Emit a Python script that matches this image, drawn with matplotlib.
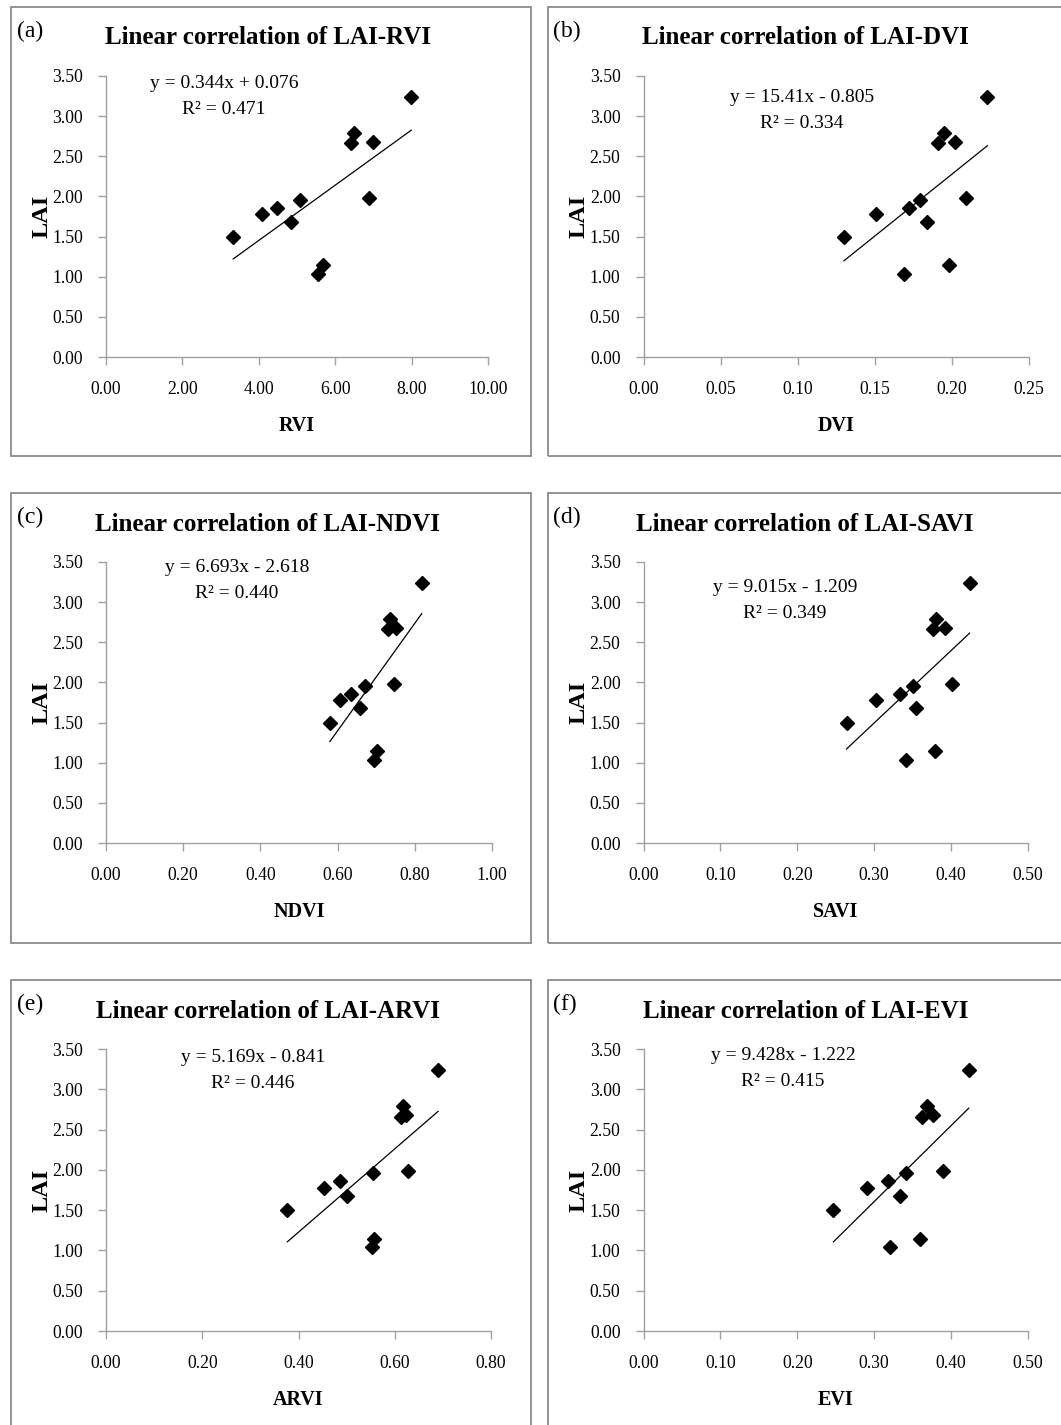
import matplotlib
matplotlib.use("Agg")
import matplotlib.pyplot as plt
from matplotlib.patches import Rectangle
import numpy as np

# Leaf area index measured at the 12 sample plots
lai = [1.50, 1.78, 1.86, 1.68, 1.96, 1.04, 1.14, 2.66, 2.79, 2.68, 1.98, 3.24]

# Vegetation indices at the same plots
rvi = [3.33, 4.08, 4.47, 4.83, 5.09, 5.54, 5.67, 6.42, 6.49, 6.98, 6.88, 7.99]
dvi = [0.130, 0.151, 0.172, 0.184, 0.179, 0.169, 0.198, 0.191, 0.195, 0.202, 0.209, 0.223]
ndvi = [0.580, 0.606, 0.635, 0.657, 0.672, 0.695, 0.701, 0.731, 0.735, 0.751, 0.747, 0.818]
savi = [0.264, 0.302, 0.333, 0.354, 0.350, 0.341, 0.379, 0.376, 0.381, 0.392, 0.401, 0.424]
arvi = [0.377, 0.452, 0.487, 0.501, 0.554, 0.553, 0.556, 0.612, 0.618, 0.624, 0.628, 0.690]
evi = [0.247, 0.291, 0.318, 0.334, 0.341, 0.321, 0.359, 0.362, 0.369, 0.376, 0.389, 0.423]

index_names = ["RVI", "DVI", "NDVI", "SAVI", "ARVI", "EVI"]
panel_tags = ["(a)", "(b)", "(c)", "(d)", "(e)", "(f)"]

# Fitted regression lines (y = slope * x + intercept) and R^2
slopes = [0.344, 15.41, 6.693, 9.015, 5.169, 9.428]
intercepts = [0.076, -0.805, -2.618, -1.209, -0.841, -1.222]
r_squared = [0.471, 0.334, 0.440, 0.349, 0.446, 0.415]

# Axis ranges and tick steps for each index
x_max = [10.0, 0.25, 1.0, 0.5, 0.8, 0.5]
x_step = [2.0, 0.05, 0.2, 0.1, 0.2, 0.1]
y_ticks = [0.0, 0.5, 1.0, 1.5, 2.0, 2.5, 3.0, 3.5]

index_values = [rvi, dvi, ndvi, savi, arvi, evi]

W, H = 1061, 1425
fig = plt.figure(figsize=(W / 100, H / 100), dpi=100)
fig.patch.set_facecolor("white")

serif = ["Liberation Serif", "DejaVu Serif"]
axis_grey = "#a0a0a0"
box_grey = "#8a8a8a"


def fx(px):
    return px / W


def fy(py):
    return 1 - py / H


# Pixel layout of each panel: box (left, top, right, bottom), axes (x0, x1, ytop, ybottom),
# equation centre (x, y of first line)
boxes = [
    (10.5, 7, 531, 456),
    (547.5, 7, 1075, 456),
    (10.5, 493, 531, 943),
    (547.5, 493, 1075, 943),
    (10.5, 980, 531, 1440),
    (547.5, 980, 1075, 1440),
]
axes_px = [
    (106, 488, 76, 357),
    (643.5, 1029, 76, 357),
    (106, 492, 562, 843),
    (643.5, 1028, 562, 843),
    (106, 491, 1049, 1331),
    (643.5, 1028, 1049, 1331),
]
eq_pos = [
    (224, 83),
    (802, 98),
    (237, 568),
    (785, 587),
    (253, 1057),
    (783, 1056),
]

for i in range(6):
    bl, bt, br, bb = boxes[i]
    fig.patches.append(
        Rectangle((fx(bl), fy(bb)), fx(br - bl), (bb - bt) / H,
                  transform=fig.transFigure, fill=False,
                  edgecolor=box_grey, linewidth=1.3, zorder=0)
    )

    x0, x1, yt, yb = axes_px[i]
    ax = fig.add_axes([fx(x0), fy(yb), fx(x1 - x0), (yb - yt) / H])
    xs = np.array(index_values[i])
    ax.plot(xs, lai, linestyle="none", marker="D", markersize=6.8,
            color="black", zorder=3, clip_on=False)

    # trend line over the span of the data
    xl = np.array([xs.min(), xs.max()])
    ax.plot(xl, slopes[i] * xl + intercepts[i], color="black", linewidth=0.9, zorder=2)

    ax.set_xlim(0, x_max[i])
    ax.set_ylim(0, 3.5)
    n = int(round(x_max[i] / x_step[i]))
    xt = [k * x_step[i] for k in range(n + 1)]
    ax.set_xticks(xt)
    ax.set_yticks(y_ticks)
    ax.set_xticklabels([f"{v:.2f}" for v in xt], fontfamily=serif, fontsize=12.7)
    ax.set_yticklabels([f"{v:.2f}" for v in y_ticks], fontfamily=serif, fontsize=12.7)

    for side in ("top", "right"):
        ax.spines[side].set_visible(False)
    for side in ("left", "bottom"):
        ax.spines[side].set_color(axis_grey)
        ax.spines[side].set_linewidth(1.0)
    ax.tick_params(axis="both", direction="out", length=5.5, width=1.0,
                   color=axis_grey, labelcolor="black")
    ax.tick_params(axis="x", pad=12)
    ax.tick_params(axis="y", pad=11)
    ax.set_facecolor("none")

    ax.set_xlabel(index_names[i], fontfamily=serif, fontsize=14.5,
                  fontweight="bold", labelpad=13)
    ax.set_ylabel("LAI", fontfamily=serif, fontsize=17.5,
                  fontweight="bold", labelpad=0)

    # panel title and tag
    right_edge = br if i % 2 == 0 else 1069
    fig.text(fx((bl + right_edge) / 2 - 3), fy(bt + 31),
             f"Linear correlation of LAI-{index_names[i]}",
             fontfamily=serif, fontsize=18, fontweight="bold",
             ha="center", va="center")
    fig.text(fx(bl + 6), fy(bt + 24), panel_tags[i], fontfamily=serif,
             fontsize=17, ha="left", va="center")

    # regression equation
    ex, ey = eq_pos[i]
    sign = "+" if intercepts[i] >= 0 else "-"
    fig.text(fx(ex), fy(ey),
             f"y = {slopes[i]:.4g}x {sign} {abs(intercepts[i]):.3f}",
             fontfamily=serif, fontsize=14, ha="center", va="center")
    fig.text(fx(ex), fy(ey + 26), f"R² = {r_squared[i]:.3f}",
             fontfamily=serif, fontsize=14, ha="center", va="center")

fig.savefig("out.png", dpi=100, facecolor="white")
